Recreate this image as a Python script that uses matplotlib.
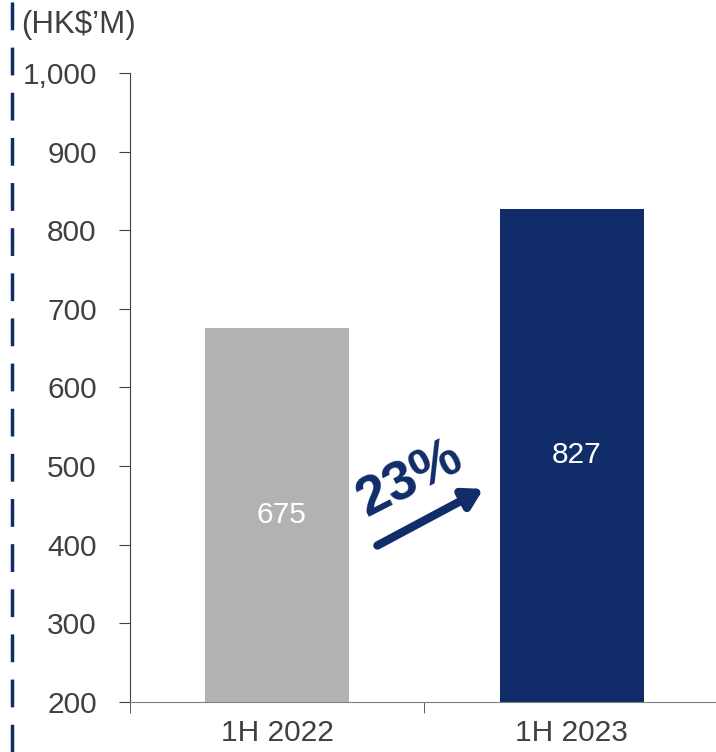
import matplotlib.pyplot as plt
from matplotlib.lines import Line2D
from matplotlib.ticker import FuncFormatter, FixedLocator

plt.rcParams['font.family'] = ['Liberation Sans', 'DejaVu Sans']

periods = ['1H 2022', '1H 2023']
values = [675, 827]
colors = ['#B2B2B2', '#102D69']
growth = '23%'

navy = '#102D69'
txt = '#404040'

fig = plt.figure(figsize=(7.16, 7.52), dpi=100)
ax = fig.add_axes([0.1816, 0.0665, 0.8184, 0.8365])

x = list(range(len(periods)))
bars = ax.bar(x, values, width=0.49, color=colors)
ax.set_ylim(200, 1000)
ax.set_xlim(-0.5, 1.49)

# labels in the middle of the visible bar
for xi, v in zip(x, values):
    ax.text(xi + 0.015, (200 + v) / 2, str(v), ha='center', va='center',
            color='white', fontsize=21.5)

ax.set_yticks(range(200, 1001, 100))
ax.yaxis.set_major_formatter(FuncFormatter(lambda v, p: f'{int(v):,}'))
ax.set_xticks(x)
ax.set_xticklabels(periods)
ax.xaxis.set_minor_locator(FixedLocator([-0.5, 0.5, 1.5]))
ax.tick_params(axis='x', which='major', length=0, pad=12, labelsize=21.5, labelcolor=txt)
ax.tick_params(axis='x', which='minor', length=8, direction='out', color='#404040')
ax.tick_params(axis='y', length=8, direction='out', pad=16, labelsize=21.5,
               labelcolor=txt, color='#404040')

for s in ['top', 'right']:
    ax.spines[s].set_visible(False)
ax.spines['left'].set_color('#404040')
ax.spines['bottom'].set_color('#808080')

# growth arrow
ax.annotate('', xy=(0.70, 471), xytext=(0.34, 399),
            arrowprops=dict(arrowstyle='-|>,head_length=1.1,head_width=0.65',
                            color=navy, lw=6, shrinkA=0, shrinkB=0))
ax.text(0.45, 482, growth, rotation=27, ha='center', va='center',
        color=navy, fontsize=40, fontweight='bold')

fig.text(0.03, 0.967, "(HK$\u2019M)", ha='left', va='center', fontsize=22.5, color=txt)

# dashed divider on left edge
fig.add_artist(Line2D([0.017, 0.017], [0.0, 1.0], transform=fig.transFigure,
                      color=navy, lw=2.5, linestyle=(0, (8, 5))))

fig.savefig('out.png', dpi=100)
